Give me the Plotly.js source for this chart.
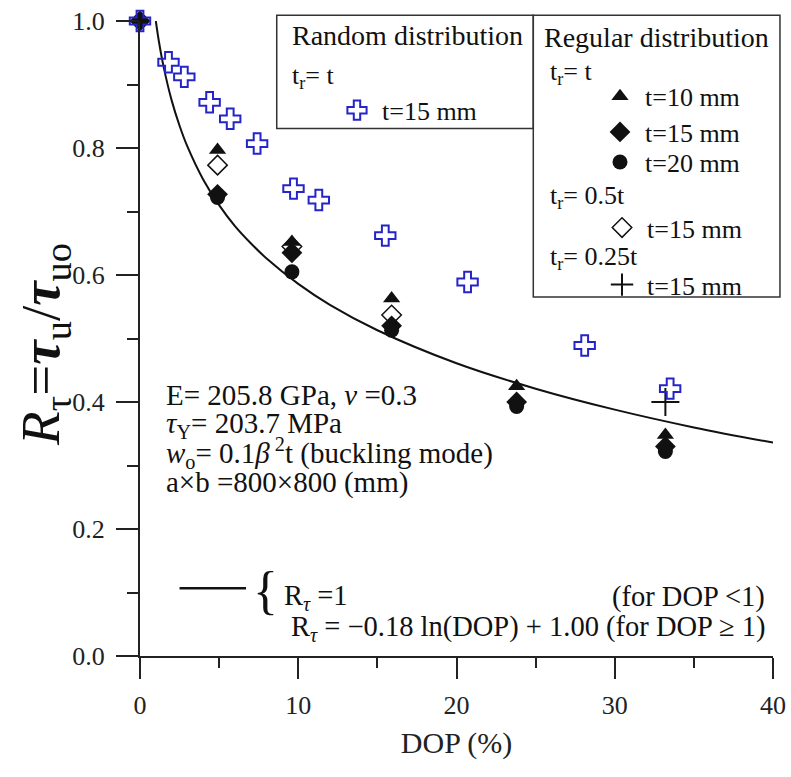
<!DOCTYPE html>
<html><head><meta charset="utf-8">
<script src="https://cdn.plot.ly/plotly-3.0.1.min.js"></script>
<style>body{margin:0;background:#fff}</style>
</head><body>
<div id="chart" style="width:791px;height:777px"></div>
<script>
// Random distribution, t_r = t, t = 15 mm
const randomX = [0, 1.8, 2.8, 4.4, 5.7, 7.4, 9.7, 11.3, 15.5, 20.7, 28.1, 33.5];
const randomY = [1.0, 0.935, 0.912, 0.872, 0.846, 0.807, 0.736, 0.718, 0.662, 0.589, 0.489, 0.421];
// Regular distribution, t_r = t
const regularX = [0, 4.9, 9.6, 15.9, 23.8, 33.2];
const t10Y = [1.0, 0.797, 0.652, 0.563, 0.425, 0.348];
const t15Y = [1.0, 0.727, 0.635, 0.520, 0.400, 0.330];
const t20Y = [1.0, 0.722, 0.605, 0.513, 0.393, 0.322];
// Regular distribution, t_r = 0.5t, t = 15 mm
const halfX = [4.9, 9.6, 15.9];
const halfY = [0.773, 0.645, 0.537];
// Regular distribution, t_r = 0.25t, t = 15 mm
const quarterX = [33.2];
const quarterY = [0.400];
// Fitted curve R = -0.18 ln(DOP) + 1.00 (read points)
const curveX = [1, 1.2, 1.5, 2, 2.5, 3, 4, 5, 6, 7, 8, 10, 12, 15, 20, 25, 30, 35, 40];
const curveY = [1.000, 0.967, 0.927, 0.875, 0.835, 0.802, 0.750, 0.710, 0.677, 0.650, 0.626, 0.586, 0.553, 0.513, 0.461, 0.421, 0.388, 0.360, 0.336];
// Axis ticks
const xTicks = [0, 10, 20, 30, 40];
const xMinor = [5, 15, 25, 35];
const yTicks = [0, 0.2, 0.4, 0.6, 0.8, 1.0];
const yTickText = ['0.0', '0.2', '0.4', '0.6', '0.8', '1.0'];
const yMinor = [0.1, 0.3, 0.5, 0.7, 0.9];

const SERIF = 'Liberation Serif';
const BLUE = '#2424c8';
const INK = '#111';

const traces = [
  {x: curveX, y: curveY, type: 'scatter', mode: 'lines', line: {color: INK, width: 2, shape: 'spline'},
   showlegend: false, hoverinfo: 'skip', cliponaxis: false},
  {x: regularX, y: t10Y, type: 'scatter', mode: 'markers', name: 't=10 mm', legend: 'legend2',
   marker: {symbol: 'triangle-up', size: 15, color: INK}, cliponaxis: false},
  {x: regularX, y: t15Y, type: 'scatter', mode: 'markers', name: 't=15 mm', legend: 'legend3',
   marker: {symbol: 'diamond', size: 16, color: INK}, cliponaxis: false},
  {x: regularX, y: t20Y, type: 'scatter', mode: 'markers', name: 't=20 mm', legend: 'legend4',
   marker: {symbol: 'circle', size: 15, color: INK}, cliponaxis: false},
  {x: halfX, y: halfY, type: 'scatter', mode: 'markers', name: 't=15 mm', legend: 'legend5',
   marker: {symbol: 'diamond-open', size: 15, color: INK, line: {width: 1.5}}, cliponaxis: false},
  {x: quarterX, y: quarterY, type: 'scatter', mode: 'markers', name: 't=15 mm', legend: 'legend6',
   marker: {symbol: 'cross-thin-open', size: 20, color: INK, line: {width: 2, color: INK}}, cliponaxis: false},
  {x: randomX, y: randomY, type: 'scatter', mode: 'markers', name: 't=15 mm', legend: 'legend',
   marker: {symbol: 'cross-open', size: 17, color: BLUE, line: {width: 2, color: BLUE}}, cliponaxis: false}
];

const leg = (x, y) => ({
  x, y, xanchor: 'left', yanchor: 'middle', bgcolor: 'rgba(0,0,0,0)', borderwidth: 0,
  font: {family: SERIF, size: 26, color: INK}, itemwidth: 40
});

const ann = (text, x, y, xanchor, size, ref) => ({
  text, x, y, xref: ref ? 'paper' : 'x', yref: ref ? 'paper' : 'y', xanchor: xanchor || 'left', yanchor: 'middle',
  showarrow: false, font: {family: SERIF, size: size || 26, color: INK}
});

const layout = {
  width: 791, height: 777,
  margin: {l: 140, r: 18, t: 21, b: 121},
  paper_bgcolor: '#fff', plot_bgcolor: '#fff',
  font: {family: SERIF, color: INK},
  showlegend: true,
  legend: leg(0.3033, 0.8594),
  legend2: leg(0.7188, 0.8813),
  legend3: leg(0.7188, 0.8251),
  legend4: leg(0.7188, 0.7779),
  legend5: leg(0.722, 0.6745),
  legend6: leg(0.722, 0.5847),
  xaxis: {
    range: [0, 40], tickvals: xTicks, ticks: 'outside', ticklen: 21, tickwidth: 2, tickcolor: '#222',
    showline: true, linecolor: '#222', linewidth: 2, showgrid: false, zeroline: false,
    minor: {tickvals: xMinor, ticks: 'outside', ticklen: 10, tickwidth: 2, tickcolor: '#222'},
    tickfont: {family: SERIF, size: 26, color: '#222'}, ticklabelstandoff: 4,
    title: {text: 'DOP (%)', font: {family: SERIF, size: 30, color: '#222'}, standoff: 13}
  },
  yaxis: {
    range: [0, 1.0], tickvals: yTicks, ticktext: yTickText, ticks: 'outside', ticklen: 22, tickwidth: 2, tickcolor: '#222',
    showline: true, linecolor: '#222', linewidth: 2, showgrid: false, zeroline: false,
    minor: {tickvals: yMinor, ticks: 'outside', ticklen: 11, tickwidth: 2, tickcolor: '#222'},
    tickfont: {family: SERIF, size: 26, color: '#222'}, ticklabelstandoff: 6
  },
  annotations: [
    {text: '<i>R</i><sub>τ</sub>=<b><i>τ</i></b><sub>u</sub>/<b><i>τ</i></b><sub>uo</sub>', textangle: -90,
     x: -0.150, y: 0.49, xref: 'paper', yref: 'paper', xanchor: 'center', yanchor: 'middle', showarrow: false,
     font: {family: SERIF, size: 55, color: '#111'}},
    ann('E= 205.8 GPa, <i>ν</i> =0.3', 1.52, 0.4106, 'left', 29),
    ann('<i>τ</i><sub>Y</sub>= 203.7 MPa', 1.52, 0.3634, 'left', 29),
    ann('<i>w</i><sub>o</sub>= 0.1<i>β</i><sup> 2</sup>t (buckling mode)', 1.52, 0.319, 'left', 29),
    ann('a×b =800×800 (mm)', 1.52, 0.2735, 'left', 29),
    ann('{', 7.0, 0.1035, 'left', 52),
    ann('R<sub><i>τ</i></sub> =1', 9.0, 0.0924, 'left', 28.5),
    ann('(for DOP &lt;1)', 39.6, 0.0924, 'right', 28.5),
    ann('R<sub><i>τ</i></sub> = −0.18 ln(DOP) + 1.00 (for DOP ≥ 1)', 39.6, 0.0436, 'right', 28.5),
    ann('Random distribution', 0.237, 0.9775, 'left', 28, true),
    ann('t<sub>r</sub>= t', 0.237, 0.9113, 'left', 26, true),
    ann('Regular distribution', 0.6346, 0.9743, 'left', 28, true),
    ann('t<sub>r</sub>= t', 0.6445, 0.9176, 'left', 26, true),
    ann('t<sub>r</sub>= 0.5t', 0.6445, 0.7224, 'left', 26, true),
    ann('t<sub>r</sub>= 0.25t', 0.6445, 0.6263, 'left', 26, true)
  ],
  shapes: [
    {type: 'line', xref: 'x', yref: 'y', x0: 2.5, x1: 6.7, y0: 0.1066, y1: 0.1066, line: {color: INK, width: 2.5}},
    {type: 'rect', xref: 'paper', yref: 'paper', x0: 0.216, x1: 0.6213, y0: 0.8306, y1: 1.009, line: {color: '#333', width: 1.5}},
    {type: 'rect', xref: 'paper', yref: 'paper', x0: 0.6213, x1: 1.011, y0: 0.5654, y1: 1.009, line: {color: '#333', width: 1.5}}
  ]
};

Plotly.newPlot('chart', traces, layout, {staticPlot: true, displayModeBar: false});
</script>
</body></html>
